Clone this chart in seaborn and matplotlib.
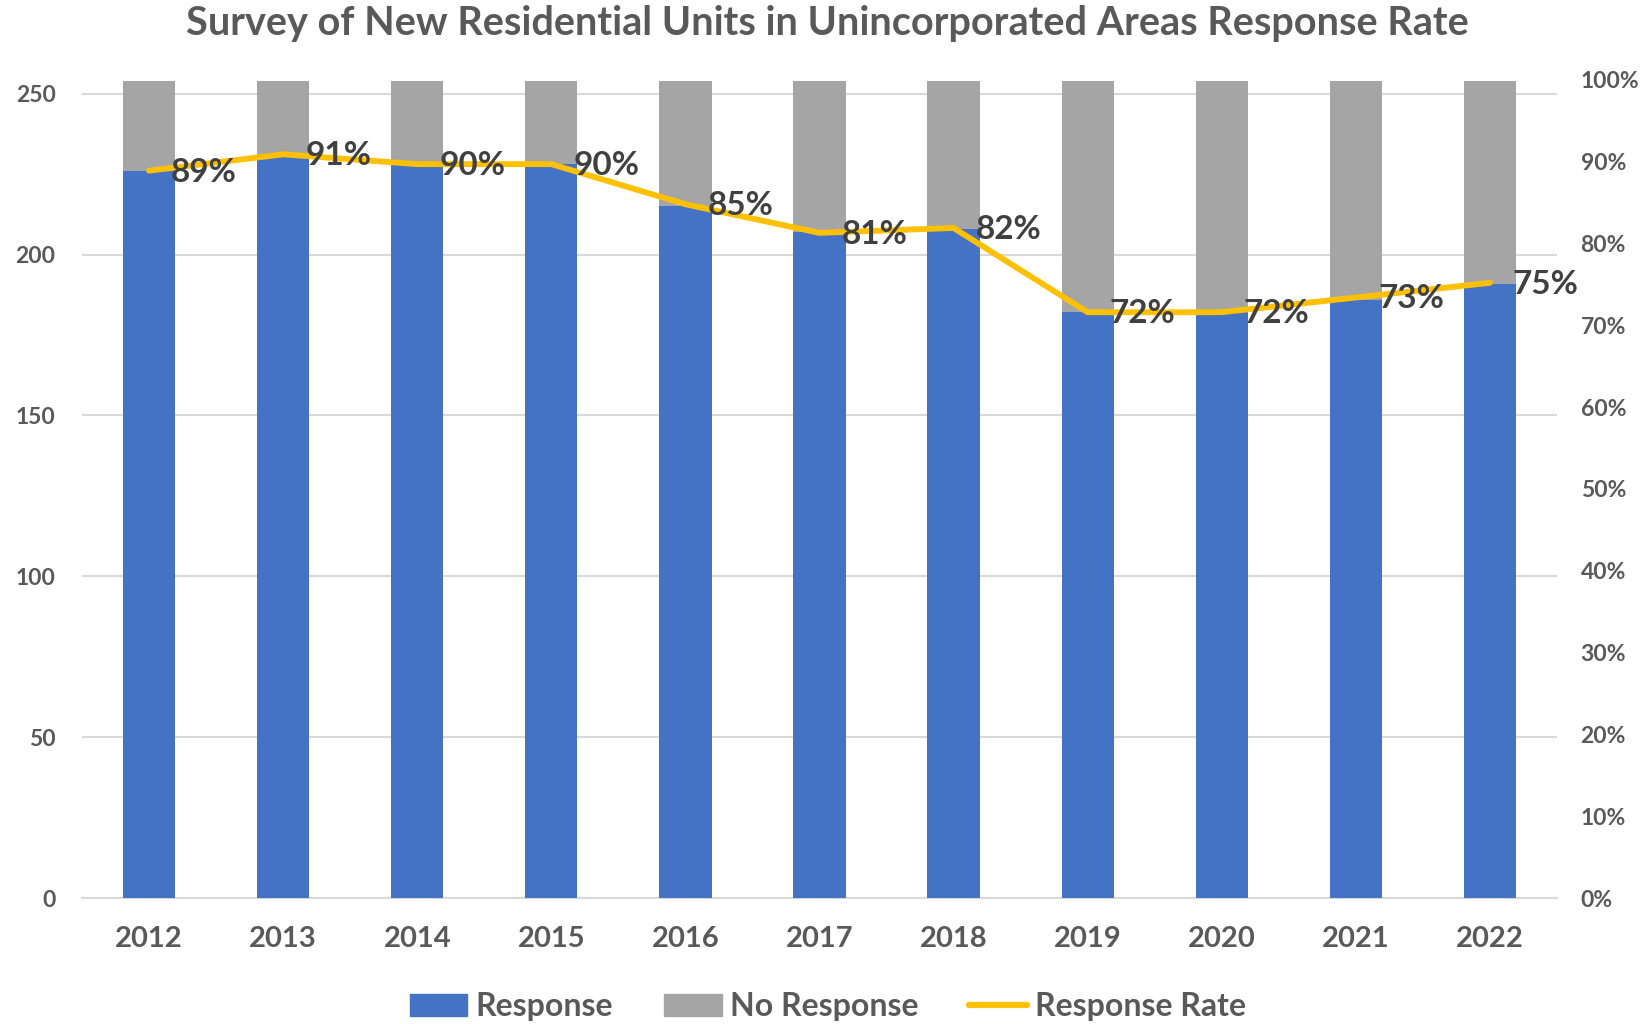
import numpy as np
import pandas as pd
import matplotlib
matplotlib.use("Agg")
import matplotlib.pyplot as plt
import seaborn as sns
from matplotlib.patches import Patch
from matplotlib.lines import Line2D

# 데이터
years = ["2012", "2013", "2014", "2015", "2016", "2017", "2018", "2019", "2020", "2021", "2022"]
response = [226, 231, 228, 228, 215, 207, 208, 182, 182, 186, 191]
no_response = [28, 23, 26, 26, 39, 47, 46, 72, 72, 68, 63]
response_rate = [0.889, 0.909, 0.897, 0.897, 0.848, 0.813, 0.819, 0.716, 0.716, 0.734, 0.752]

df = pd.DataFrame({"year": years, "response": response, "no_response": no_response,
                   "rate": response_rate})
df["total"] = df["response"] + df["no_response"]
df["pos"] = np.arange(len(df))

sns.set_style("white")
plt.rcParams["font.family"] = ["Lato", "DejaVu Sans"]
plt.rcParams["font.weight"] = "bold"

# 색상
blue = "#4472C4"
gray = "#A5A5A5"
gold = "#FFC000"
txt = "#595959"

fig = plt.figure(figsize=(16.49, 10.24), dpi=100)
ax = fig.add_axes([0.0497, 0.123, 0.8945, 0.799])

sns.barplot(data=df, x="year", y="total", color=gray, width=0.39, saturation=1, linewidth=0,
            ax=ax, zorder=2)
sns.barplot(data=df, x="year", y="response", color=blue, width=0.39, saturation=1, linewidth=0,
            ax=ax, zorder=3)

ax.set_xlim(-0.5, len(years) - 0.5)
ax.set_ylim(0, 254.3)
ax.set_yticks(range(0, 251, 50))
ax.yaxis.grid(True, color="#D9D9D9", linewidth=1.5, zorder=0)
ax.set_axisbelow(True)
ax.set_xlabel("")
ax.set_ylabel("")
for s in ["top", "right", "left"]:
    ax.spines[s].set_visible(False)
ax.spines["bottom"].set_color("#D9D9D9")
ax.spines["bottom"].set_linewidth(1.5)
ax.tick_params(axis="y", length=0, pad=19, labelsize=16.5, labelcolor=txt)
ax.tick_params(axis="x", length=0, pad=20, labelsize=21, labelcolor=txt)

# 응답률 선
ax2 = ax.twinx()
sns.lineplot(data=df, x="pos", y="rate", color=gold, linewidth=4.2, ax=ax2, zorder=4)
ax2.set_ylim(0, 1)
ax2.set_yticks(np.arange(0, 1.01, 0.1))
ax2.set_yticklabels([f"{int(round(v * 100))}%" for v in np.arange(0, 1.01, 0.1)])
ax2.tick_params(axis="y", length=0, pad=17, labelsize=16.5, labelcolor=txt)
ax2.set_ylabel("")
ax2.set_xlabel("")
for s in ax2.spines.values():
    s.set_visible(False)
ax2.set_xlim(-0.5, len(years) - 0.5)

for p, r in zip(df["pos"], df["rate"]):
    ax2.annotate(f"{int(round(r * 100))}%", (p, r), xytext=(16, -1), textcoords="offset points",
                 ha="left", va="center", fontsize=24, fontweight="bold", color="#404040", zorder=5)

fig.suptitle("Survey of New Residential Units in Unincorporated Areas Response Rate",
             x=0.502, y=0.977, fontsize=28.5, fontweight="bold", color=txt, va="center")

handles = [Patch(color=blue, label="Response"),
           Patch(color=gray, label="No Response"),
           Line2D([0], [0], color=gold, linewidth=4.5, label="Response Rate")]
fig.legend(handles=handles, loc="center", bbox_to_anchor=(0.502, 0.017), ncol=3, frameon=False,
           fontsize=23, labelcolor=txt, handlelength=1.8, handleheight=0.7, columnspacing=1.6,
           handletextpad=0.25)

fig.savefig("out.png", dpi=100)
